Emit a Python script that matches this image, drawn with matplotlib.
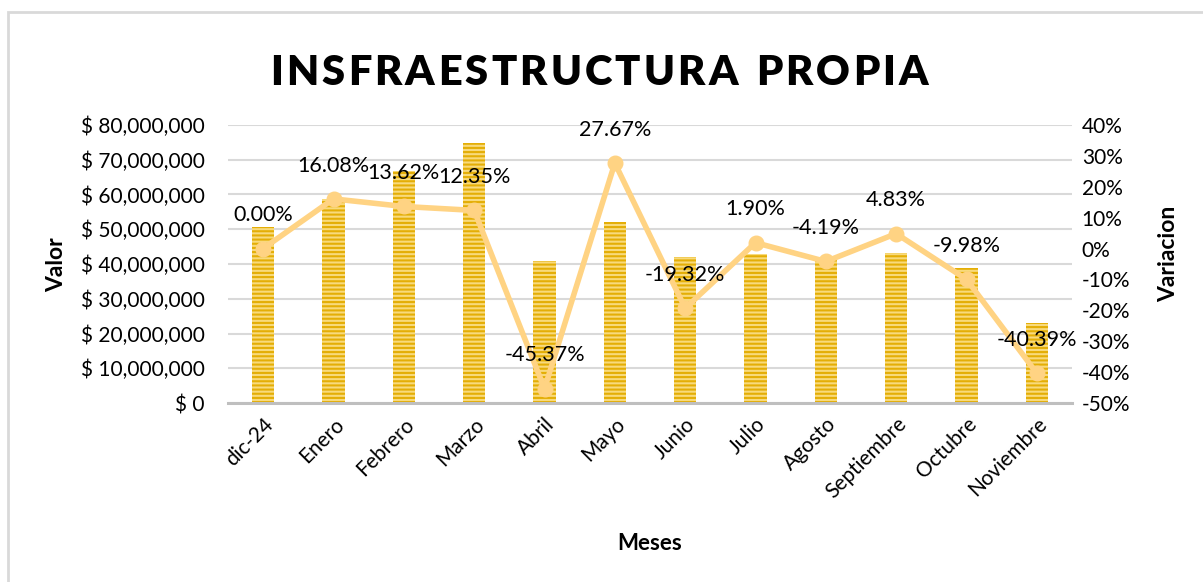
import matplotlib
matplotlib.use("Agg")
import matplotlib.pyplot as plt
from matplotlib.ticker import FuncFormatter, MultipleLocator
from matplotlib.patches import Rectangle

meses = ["dic-24", "Enero", "Febrero", "Marzo", "Abril", "Mayo", "Junio",
         "Julio", "Agosto", "Septiembre", "Octubre", "Noviembre"]
valor = [50.6e6, 58.7e6, 66.7e6, 74.9e6, 40.9e6, 52.2e6, 42.1e6,
         42.9e6, 41.1e6, 43.1e6, 38.8e6, 23.1e6]
variacion = [0.00, 16.08, 13.62, 12.35, -45.37, 27.67, -19.32,
             1.90, -4.19, 4.83, -9.98, -40.39]
titulo = "INSFRAESTRUCTURA PROPIA"

FONT = "Lato"
plt.rcParams['font.family'] = [FONT, 'DejaVu Sans']
plt.rcParams['hatch.linewidth'] = 1.5

W, H = 1203, 582
fig = plt.figure(figsize=(W/100, H/100), dpi=100)
fig.patch.set_facecolor("white")
ax = fig.add_axes([228/W, 1-403/H, (1072-228)/W, (403-125)/H])

x = list(range(len(meses)))
ax.bar(x, valor, width=0.32, color="#F8DA7C", edgecolor="#E4AE06",
       hatch="----", linewidth=0, zorder=2)
ax.set_xlim(-0.5, len(meses)-0.5)
ax.set_ylim(0, 80e6)
ax.yaxis.set_major_locator(MultipleLocator(10e6))
ax.yaxis.set_major_formatter(FuncFormatter(lambda v, p: f"$ {v:,.0f}"))
ax.grid(axis="y", color="#D9D9D9", linewidth=1.5, zorder=0)
ax.set_axisbelow(True)
for s in ["top", "right", "left"]:
    ax.spines[s].set_visible(False)
ax.spines["bottom"].set_color("#BFBFBF")
ax.spines["bottom"].set_linewidth(2.2)
ax.spines["bottom"].set_zorder(3)
ax.tick_params(axis="both", length=0, labelsize=15, colors="#000000")
ax.tick_params(axis="y", pad=17)
ax.set_xticks(x)
ax.set_xticklabels(meses, rotation=45, ha="right", rotation_mode="anchor")
ax.tick_params(axis="x", pad=8)

ax2 = ax.twinx()
ax2.set_ylim(-50, 40)
ax2.yaxis.set_major_locator(MultipleLocator(10))
ax2.yaxis.set_major_formatter(FuncFormatter(lambda v, p: f"{v:.0f}%"))
for s in ["top", "right", "left", "bottom"]:
    ax2.spines[s].set_visible(False)
ax2.tick_params(axis="y", length=0, labelsize=15, pad=7)
ax2.plot(x, variacion, color="#FFD383", linewidth=4.0, marker="o",
         markersize=10.5, zorder=4, solid_capstyle="round")
for xi, v in zip(x, variacion):
    ax2.annotate(f"{v:.2f}%", (xi, v), xytext=(0, 24), textcoords="offset points",
                 ha="center", va="center", fontsize=15.5, color="#000000", zorder=5)

fig.text(57/W, 1-265/H, "Valor", rotation=90, ha="center", va="center",
         fontsize=16.5, fontweight="bold")
fig.text(1169/W, 1-254/H, "Variacion", rotation=90, ha="center", va="center",
         fontsize=16.5, fontweight="bold")
fig.text(650/W, 1-543/H, "Meses", ha="center", va="center",
         fontsize=16, fontweight="bold")

# Title with letter spacing
renderer = fig.canvas.get_renderer()
tfs = 30
widths = []
for ch in titulo:
    if ch == " ":
        t = fig.text(0, 0, "I", fontsize=tfs, fontweight="heavy")
        w = t.get_window_extent(renderer).width * 0.9
    else:
        t = fig.text(0, 0, ch, fontsize=tfs, fontweight="heavy")
        w = t.get_window_extent(renderer).width
    t.remove()
    widths.append(w)
target = 928 - 270
track = (target - sum(widths)) / (len(titulo) - 1)
xc = 270.0
for ch, w in zip(titulo, widths):
    if ch != " ":
        fig.text(xc/W, 1-73/H, ch, ha="left", va="center", fontsize=tfs,
                 fontweight="heavy", color="#000000")
    xc += w + track

fig.patches.append(Rectangle((8/W, -0.1), 1.2, 1-12/H+0.1,
                             transform=fig.transFigure, fill=False,
                             edgecolor="#D9D9D9", linewidth=2))

fig.savefig("out.png", dpi=100)
